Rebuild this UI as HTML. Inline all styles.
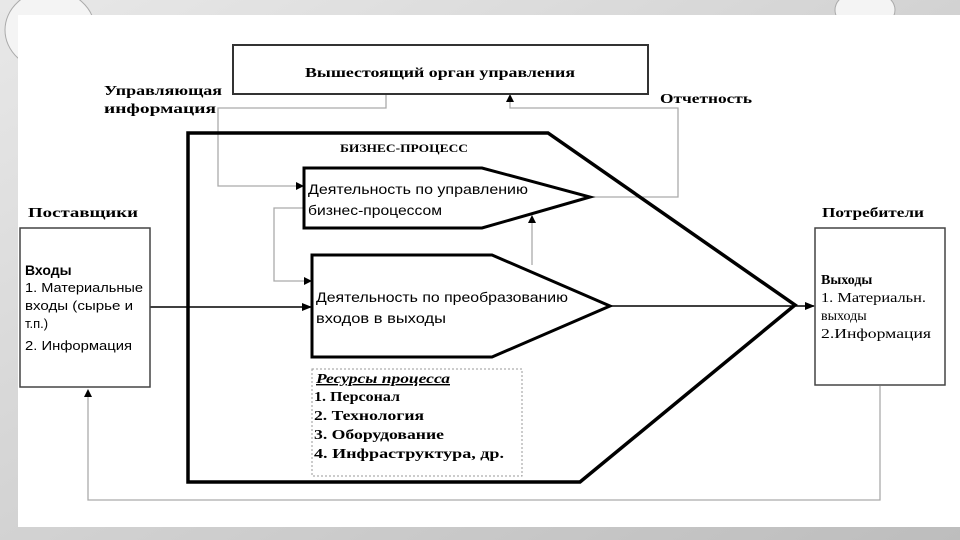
<!DOCTYPE html>
<html><head><meta charset="utf-8"><style>
html,body{margin:0;padding:0;width:960px;height:540px;overflow:hidden;background:#d6d6d6}
svg{display:block}
.s{font-family:"Liberation Serif","DejaVu Serif",serif;font-weight:bold}
.a{font-family:"Liberation Sans","DejaVu Sans",sans-serif}
</style></head><body>
<svg width="960" height="540" viewBox="0 0 960 540" xmlns="http://www.w3.org/2000/svg">
<defs>
<linearGradient id="bg" x1="0" y1="0" x2="1" y2="1"><stop offset="0" stop-color="#e8e8e8"/><stop offset="1" stop-color="#bdbdbd"/></linearGradient>
<marker id="ab" markerWidth="10" markerHeight="8" refX="9" refY="4" orient="auto" markerUnits="userSpaceOnUse"><path d="M0,0 L10,4 L0,8 Z" fill="#000"/></marker>
</defs>
<rect width="960" height="540" fill="url(#bg)"/>
<ellipse cx="50" cy="30" rx="45" ry="40" fill="#f4f4f4" stroke="#aaa"/>
<ellipse cx="865" cy="10" rx="30" ry="20" fill="#f4f4f4" stroke="#aaa"/>
<rect x="18" y="15" width="942" height="512" fill="#fff"/>
<g fill="none" stroke="#aaa" stroke-width="1.3">
<polyline points="386,94 386,108 218,108 218,186 296,186"/>
<polyline points="590,197 678,197 678,108 510,108 510,100"/>
<polyline points="304,208 274,208 274,281 306,281"/>
<polyline points="532,265 532,222"/>
<polyline points="880,386 880,500 88,500 88,396"/>
</g>
<g fill="#000">
<path d="M296,182 L304,186 L296,190Z"/>
<path d="M506,102 L510,94 L514,102Z"/>
<path d="M304,277 L312,281 L304,285Z"/>
<path d="M528,223 L532,215 L536,223Z"/>
<path d="M84,397 L88,389 L92,397Z"/>
</g>
<rect x="233" y="45" width="415" height="49" fill="#fff" stroke="#333" stroke-width="2"/>
<text x="305" y="77" class="s" font-size="14" textLength="270" lengthAdjust="spacingAndGlyphs">Вышестоящий орган управления</text>
<text x="104" y="95" class="s" font-size="14" textLength="118" lengthAdjust="spacingAndGlyphs">Управляющая</text>
<text x="104" y="113" class="s" font-size="14" textLength="112" lengthAdjust="spacingAndGlyphs">информация</text>
<text x="660" y="103" class="s" font-size="14" textLength="92" lengthAdjust="spacingAndGlyphs">Отчетность</text>
<polygon points="188,133 548,133 795,305 580,482 188,482" fill="none" stroke="#000" stroke-width="3.5"/>
<text x="340" y="152" class="s" font-size="12" textLength="128" lengthAdjust="spacingAndGlyphs">БИЗНЕС-ПРОЦЕСС</text>
<polygon points="304,168 482,168 590,197 482,228 304,228" fill="#fff" stroke="#000" stroke-width="3"/>
<text x="308" y="194" class="a" font-size="14" textLength="220" lengthAdjust="spacingAndGlyphs">Деятельность по управлению</text>
<text x="308" y="215" class="a" font-size="14" textLength="134" lengthAdjust="spacingAndGlyphs">бизнес-процессом</text>
<polygon points="312,255 492,255 610,306 492,357 312,357" fill="#fff" stroke="#000" stroke-width="3"/>
<text x="316" y="302" class="a" font-size="14" textLength="252" lengthAdjust="spacingAndGlyphs">Деятельность по преобразованию</text>
<text x="316" y="323" class="a" font-size="14" textLength="130" lengthAdjust="spacingAndGlyphs">входов в выходы</text>
<line x1="150" y1="307" x2="311" y2="307" stroke="#000" stroke-width="1.5" marker-end="url(#ab)"/>
<line x1="610" y1="306" x2="814" y2="306" stroke="#000" stroke-width="1.5" marker-end="url(#ab)"/>
<rect x="20" y="228" width="130" height="159" fill="#fff" stroke="#444" stroke-width="1.5"/>
<text x="28" y="217" class="s" font-size="14" textLength="110" lengthAdjust="spacingAndGlyphs">Поставщики</text>
<text x="25" y="275" class="a" font-size="14" font-weight="bold">Входы</text>
<text x="25" y="292" class="a" font-size="13" textLength="118" lengthAdjust="spacingAndGlyphs">1. Материальные</text>
<text x="25" y="310" class="a" font-size="13" textLength="108" lengthAdjust="spacingAndGlyphs">входы (сырье и</text>
<text x="25" y="328" class="a" font-size="13">т.п.)</text>
<text x="25" y="350" class="a" font-size="13" textLength="107" lengthAdjust="spacingAndGlyphs">2. Информация</text>
<rect x="815" y="228" width="130" height="157" fill="#fff" stroke="#444" stroke-width="1.5"/>
<text x="822" y="217" class="s" font-size="14" textLength="102" lengthAdjust="spacingAndGlyphs">Потребители</text>
<text x="821" y="284" class="s" font-size="14">Выходы</text>
<text x="821" y="302" font-family="Liberation Serif,serif" font-size="14" textLength="105" lengthAdjust="spacingAndGlyphs">1. Материальн.</text>
<text x="821" y="320" font-family="Liberation Serif,serif" font-size="14">выходы</text>
<text x="821" y="338" font-family="Liberation Serif,serif" font-size="14" textLength="110" lengthAdjust="spacingAndGlyphs">2.Информация</text>
<rect x="312" y="369" width="210" height="107" fill="#fff" stroke="#999" stroke-dasharray="2,2"/>
<text x="316" y="383" class="s" font-size="14" font-style="italic" text-decoration="underline" textLength="134" lengthAdjust="spacingAndGlyphs">Ресурсы процесса</text>
<text x="314" y="401" class="s" font-size="14" textLength="86" lengthAdjust="spacingAndGlyphs">1. Персонал</text>
<text x="314" y="420" class="s" font-size="14" textLength="110" lengthAdjust="spacingAndGlyphs">2. Технология</text>
<text x="314" y="439" class="s" font-size="14" textLength="130" lengthAdjust="spacingAndGlyphs">3. Оборудование</text>
<text x="314" y="458" class="s" font-size="14" textLength="190" lengthAdjust="spacingAndGlyphs">4. Инфраструктура, др.</text>
</svg>
</body></html>
